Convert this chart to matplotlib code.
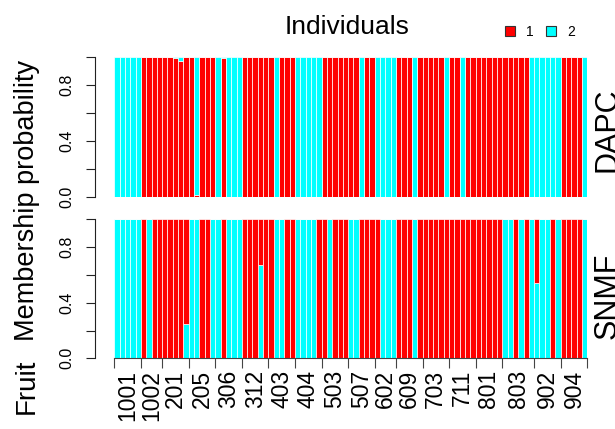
import numpy as np
import matplotlib
matplotlib.use("Agg")
from matplotlib import pyplot as plt
from matplotlib.patches import Patch

plt.rcParams['font.family'] = ['Liberation Sans', 'DejaVu Sans']

# fruit groups along the x axis and how many individuals each holds
fruit = ['1001', '1002', '201', '205', '306', '312', '403', '404', '503',
         '507', '602', '609', '703', '711', '801', '803', '902', '904']
group_size = [5, 4, 5, 5, 5, 5, 5, 5, 5, 5, 4, 5, 5, 5, 5, 6, 5, 5]

# membership probability of cluster 1 (red) per individual
dapc_p1 = [0, 0, 0, 0, 0,
           1, 1, 1, 1, 1, 1, 0.99, 0.97, 1, 1,
           0.01, 1, 1, 1, 0, 0.99, 0, 0, 0,
           1, 1, 1, 1, 1, 1,
           0, 1, 1, 1, 0, 0, 0, 0, 0,
           1, 1, 1, 1, 1, 1, 1, 0, 1, 1,
           0, 0, 0, 0, 1, 1, 1, 0, 1, 1, 1, 1, 1,
           0, 1, 1, 0, 1, 1, 1, 1, 1, 1, 1, 1, 1, 1, 1, 1,
           0, 0, 0, 0, 0, 0, 1, 1, 1, 1, 0]

snmf_p1 = [0, 0, 0, 0, 0,
           1, 0, 1, 1, 1, 1, 1, 1, 0.75,
           0, 0, 1, 1, 0, 0, 1, 0, 0, 0,
           1, 1, 1, 0.33, 1, 1,
           0, 0, 1, 1, 0, 0, 0, 0, 1, 1,
           0, 1, 1, 1, 0, 0, 1, 1, 1, 1,
           0, 0, 0, 1, 1, 1, 0,
           1, 1, 1, 1, 1, 1, 1, 1, 1, 1, 1, 1, 1, 1, 1, 1,
           0, 0, 1, 0, 1, 0, 0.455, 0, 0, 1, 0, 1, 1, 1, 1, 0]

RED = '#ff0000'
CYAN = '#00ffff'

dapc_p1 = np.array(dapc_p1)
snmf_p1 = np.array(snmf_p1)
n = len(dapc_p1)
x = np.arange(n)
bounds = np.concatenate([[0], np.cumsum(group_size)])
centers = (bounds[:-1] + bounds[1:]) / 2

W, H = 615, 429
fig = plt.figure(figsize=(W / 100, H / 100), dpi=100)
ax1 = fig.add_axes([114.3 / W, 1 - 196.7 / H, 473 / W, 140 / H])
ax2 = fig.add_axes([114.3 / W, 1 - 358.3 / H, 473 / W, 139 / H])

bar_kw = dict(width=1, align='edge', edgecolor='white', linewidth=0.5)
# DAPC: cluster 1 at the bottom
ax1.bar(x, dapc_p1, color=RED, **bar_kw)
ax1.bar(x, 1 - dapc_p1, bottom=dapc_p1, color=CYAN, **bar_kw)
# SNMF: cluster 2 at the bottom
ax2.bar(x, 1 - snmf_p1, color=CYAN, **bar_kw)
ax2.bar(x, snmf_p1, bottom=1 - snmf_p1, color=RED, **bar_kw)

for ax in (ax1, ax2):
    ax.set_xlim(0, n)
    ax.set_ylim(0, 1)
    for s in ('top', 'right'):
        ax.spines[s].set_visible(False)
    ax.spines['left'].set_position(('outward', 13.9))
    ax.spines['left'].set_bounds(0, 1)
    ax.spines['left'].set_color('#222222')
    ax.set_yticks([0, 0.2, 0.4, 0.6, 0.8, 1.0])
    ax.set_yticklabels(['0.0', '', '0.4', '', '0.8', ''], rotation=90,
                       va='center', fontsize=11.5)
    ax.tick_params(axis='y', length=6.5, pad=8.5, color='#222222')

ax1.spines['bottom'].set_visible(False)
ax1.set_xticks([])

ax2.spines['bottom'].set_color('#444444')
ax2.set_xticks(bounds)
ax2.set_xticklabels([])
ax2.tick_params(axis='x', which='major', length=7.2, color='#444444')
ax2.set_xticks(centers, minor=True)
ax2.set_xticklabels(fruit, minor=True, rotation=90, va='top', fontsize=16.5)
ax2.tick_params(axis='x', which='minor', length=0, pad=8.5)

fig.text(347 / W, 1 - 27 / H, 'Individuals', ha='center', va='center', fontsize=19)
fig.text(27 / W, 1 - 200 / H, 'Membership probability', rotation=90,
         ha='center', va='center', fontsize=19.5)
fig.text(27 / W, 1 - 386 / H, 'Fruit', rotation=90, ha='center', va='center',
         fontsize=20)
fig.text(593 / W, 1 - 130 / H, 'DAPC', rotation=90, ha='left', va='center',
         fontsize=22)
fig.text(593 / W, 1 - 296 / H, 'SNMF', rotation=90, ha='left', va='center',
         fontsize=22)

handles = [Patch(facecolor=RED, edgecolor='#333333', linewidth=0.8),
           Patch(facecolor=CYAN, edgecolor='#333333', linewidth=0.8)]
fig.legend(handles, ['1', '2'], ncol=2, frameon=False, loc='center left',
           bbox_to_anchor=(505 / W, 1 - 32 / H), borderpad=0, borderaxespad=0,
           handlelength=0.7, handleheight=0.7, handletextpad=0.8,
           columnspacing=0.9, fontsize=10)

fig.savefig('out.png', dpi=100)
